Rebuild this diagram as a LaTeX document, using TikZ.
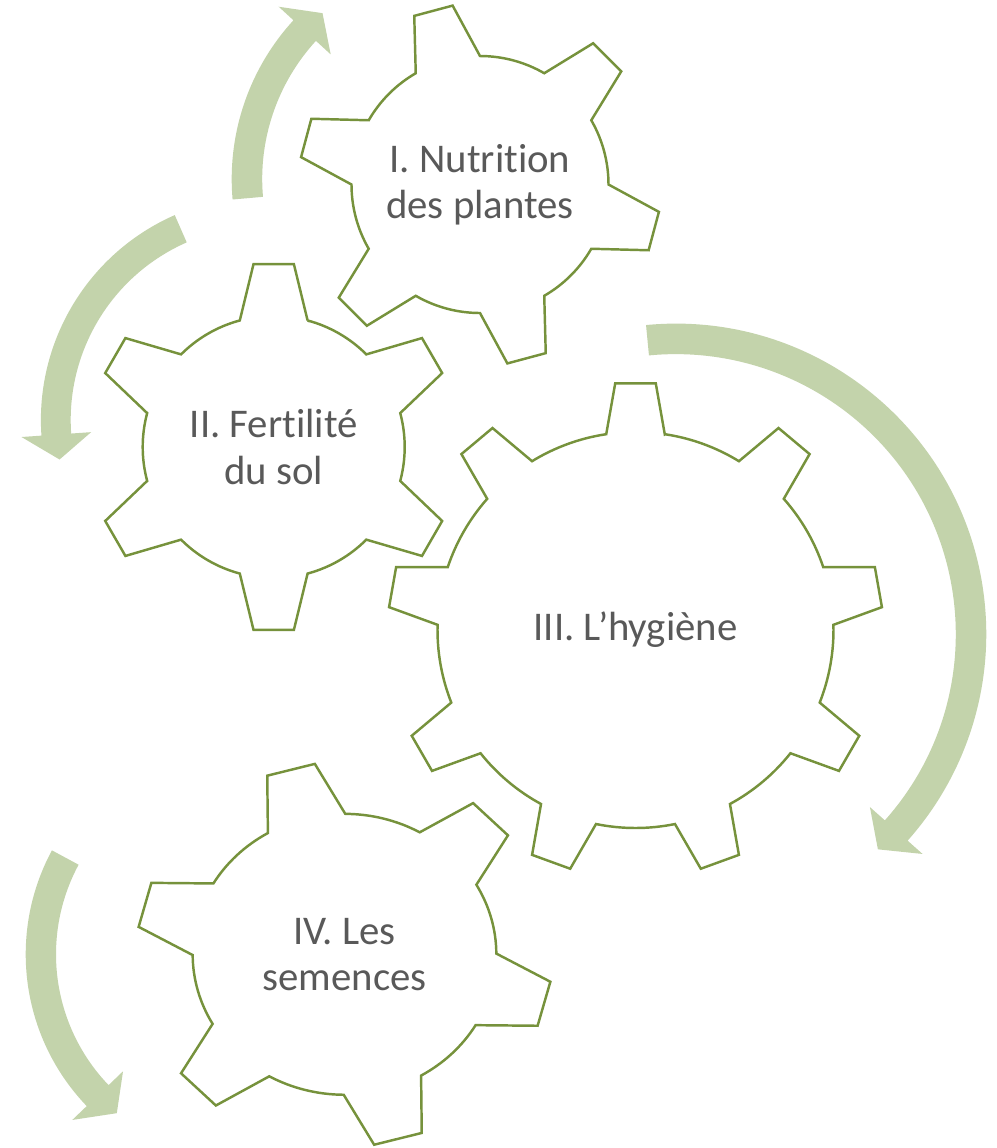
\documentclass[tikz,border=0pt]{standalone}
\usepackage{fontspec}
\setmainfont{Carlito}[Ligatures=NoCommon]
\usepackage{xcolor}
\usepackage{tikz}
\usetikzlibrary{positioning}

\definecolor{gearline}{RGB}{118,146,60}
\definecolor{bandfill}{RGB}{195,211,171}
\definecolor{labelgray}{RGB}{89,89,89}

\begin{document}
\begin{tikzpicture}[
        cogline/.style={draw=gearline, line width=0.7pt, line join=miter},
        cogtext/.style={align=center, text=labelgray, font=\fontsize{11.6}{13.1}\selectfont},
        band/.style={fill=bandfill, draw=none},
        % teeth, first tooth angle, root radius, tip radius, root half width, tip half width
        pics/cog/.style n args={6}{code={
            \draw[cogline] ({#2-#5}:#3)
                \foreach \k in {1,...,#1} {
                    -- ({#2+(\k-1)*360/#1-#6}:#4) -- ({#2+(\k-1)*360/#1+#6}:#4)
                    -- ({#2+(\k-1)*360/#1+#5}:#3)
                    arc[start angle={#2+(\k-1)*360/#1+#5}, delta angle={360/#1-2*#5}, radius=#3]
                } -- cycle;
        }},
        % inner radius, outer radius, tail angle, neck angle, tip angle
        pics/turn/.style n args={5}{code={
            \fill[band] (#3:#2) arc[start angle=#3, end angle=#4, radius=#2]
                -- (#4:{#2+0.2}) -- (#5:{(#1+#2)/2}) -- (#4:{#1-0.2})
                -- (#4:#1) arc[start angle=#4, end angle=#3, radius=#1] -- cycle;
        }}
    ]
        \useasboundingbox (0,0) rectangle (9.97,-11.48);

        % Labels
        \node[cogtext] (nutrition) at (4.80,-1.845) {I. Nutrition\\des plantes};
        \node[cogtext] (fertilite) at (2.737,-4.47) {II. Fertilité\\du sol};
        \node[cogtext] (hygiene) at (6.355,-6.30) {III. L’hygiène};
        \node[cogtext] (semences) at (3.445,-9.543) {IV. Les\\semences};

        % Gears
        \pic at (nutrition.center) {cog={6}{105}{1.285}{1.81}{15}{6.3}};
        \pic at (fertilite.center) {cog={6}{90}{1.31}{1.84}{15}{6.3}};
        \pic at (hygiene.center) {cog={9}{90}{1.98}{2.475}{8.5}{4.7}};
        \pic[xscale=1.04, yscale=0.962] at (semences.center) {cog={6}{105}{1.46}{2.0}{15.3}{6.8}};

        % Turning arrows
        \pic at (4.667,-1.79) {turn={2.045}{2.35}{185}{137.5}{131}};
        \pic at (2.647,-4.20) {turn={1.94}{2.238}{113.7}{184}{190.9}};
        \pic at (6.758,-6.341) {turn={2.80}{3.105}{95.5}{-41.7}{-46.8}};
        \pic at (2.45,-9.543) {turn={1.89}{2.193}{151.7}{223.8}{231.1}};
    \end{tikzpicture}
\end{document}
